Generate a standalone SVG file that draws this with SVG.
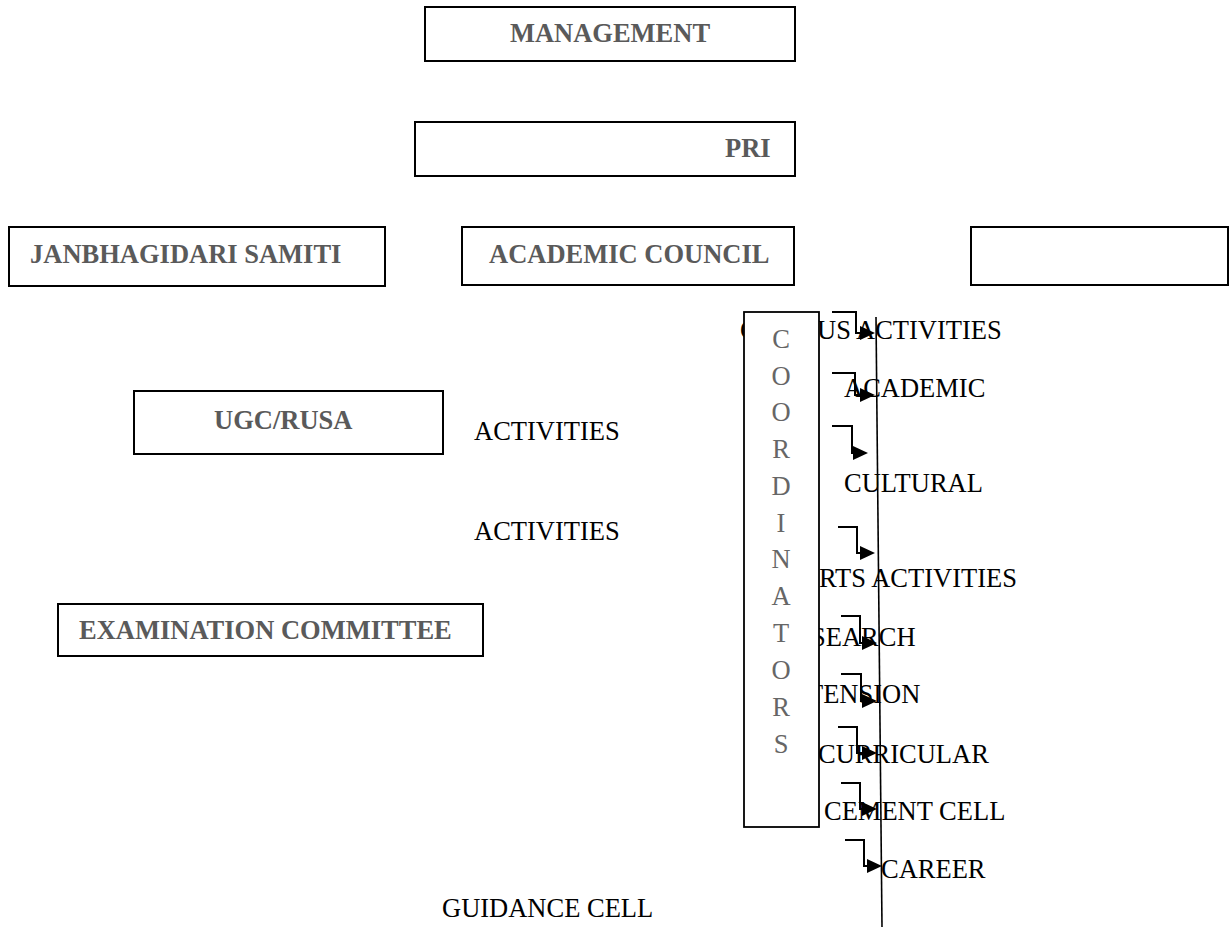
<svg xmlns="http://www.w3.org/2000/svg" width="1231" height="927" viewBox="0 0 1231 927">
<style>
.box{fill:#fff;stroke:#000;stroke-width:2}
.lbl{font-family:"Liberation Serif","Times New Roman",serif;font-size:26.5px;font-weight:bold;fill:#5a5a5a}
.txt{font-family:"Liberation Serif","Times New Roman",serif;font-size:26.5px;fill:#000}
.vl{font-family:"Liberation Serif","Times New Roman",serif;font-size:26.5px;fill:#666;text-anchor:middle}
.con{fill:none;stroke:#000;stroke-width:2}
</style>
<defs>
<marker id="ah" markerUnits="userSpaceOnUse" markerWidth="16" markerHeight="14" refX="0" refY="7" orient="auto">
<path d="M0,0 L15,7 L0,14 z" fill="#000"/>
</marker>
</defs>
<rect width="1231" height="927" fill="#fff"/>
<g id="management"><rect class="box" x="425" y="7" width="370" height="54"/><text class="lbl" x="610" y="42" text-anchor="middle">MANAGEMENT</text></g>
<g id="pri"><rect class="box" x="415" y="122" width="380" height="54"/><text class="lbl" x="725" y="157">PRI</text></g>
<g id="janbhagidari"><rect class="box" x="9" y="227" width="376" height="59"/><text class="lbl" x="30" y="263">JANBHAGIDARI SAMITI</text></g>
<g id="academic-council"><rect class="box" x="462" y="227" width="332" height="58"/><text class="lbl" x="489" y="263">ACADEMIC COUNCIL</text></g>
<g id="empty-box"><rect class="box" x="971" y="227" width="257" height="58"/></g>
<g id="ugc-rusa"><rect class="box" x="134" y="391" width="309" height="63"/><text class="lbl" x="214" y="429">UGC/RUSA</text></g>
<g id="exam"><rect class="box" x="58" y="604" width="425" height="52"/><text class="lbl" x="79" y="639">EXAMINATION COMMITTEE</text></g>
<g id="free-texts">
<text class="txt" x="474" y="440">ACTIVITIES</text>
<text class="txt" x="474" y="540">ACTIVITIES</text>
<text class="txt" x="442" y="917">GUIDANCE CELL</text>
</g>
<g id="right-labels">
<text class="txt" x="740" y="339">C</text>
<text class="txt" x="817" y="339">US ACTIVITIES</text>
<text class="txt" x="844" y="397">ACADEMIC</text>
<text class="txt" x="844" y="492">CULTURAL</text>
<text class="txt" x="819" y="587">RTS ACTIVITIES</text>
<text class="txt" x="811" y="646">SEARCH</text>
<text class="txt" x="807" y="703">TENSION</text>
<text class="txt" x="818" y="763">CURRICULAR</text>
<text class="txt" x="824" y="820">CEMENT CELL</text>
<text class="txt" x="881" y="878">CAREER</text>
</g>
<g id="coordinators">
<rect x="744" y="312" width="75" height="515" fill="#fff" stroke="#000" stroke-width="1.8"/>
<text class="vl" x="781" y="348">C</text>
<text class="vl" x="781" y="384.5">O</text>
<text class="vl" x="781" y="421">O</text>
<text class="vl" x="781" y="458">R</text>
<text class="vl" x="781" y="495">D</text>
<text class="vl" x="781" y="532">I</text>
<text class="vl" x="781" y="568">N</text>
<text class="vl" x="781" y="605">A</text>
<text class="vl" x="781" y="642">T</text>
<text class="vl" x="781" y="679">O</text>
<text class="vl" x="781" y="716">R</text>
<text class="vl" x="781" y="753">S</text>
</g>
<g id="connectors">
<line x1="876" y1="317" x2="882" y2="927" stroke="#000" stroke-width="1.6"/>
<path class="con" marker-end="url(#ah)" d="M832 312 H856 V333 H860"/>
<path class="con" marker-end="url(#ah)" d="M832 373 H855 V395 H860"/>
<path class="con" marker-end="url(#ah)" d="M832 426 H852 V453 H853"/>
<path class="con" marker-end="url(#ah)" d="M838 527 H857 V553 H860"/>
<path class="con" marker-end="url(#ah)" d="M841 616 H860 V643 H862"/>
<path class="con" marker-end="url(#ah)" d="M841 674 H861 V701 H862"/>
<path class="con" marker-end="url(#ah)" d="M838 727 H857 V753 H862"/>
<path class="con" marker-end="url(#ah)" d="M841 783 H860 V809 H862"/>
<path class="con" marker-end="url(#ah)" d="M845 840 H864 V866 H867"/>
</g>
</svg>
